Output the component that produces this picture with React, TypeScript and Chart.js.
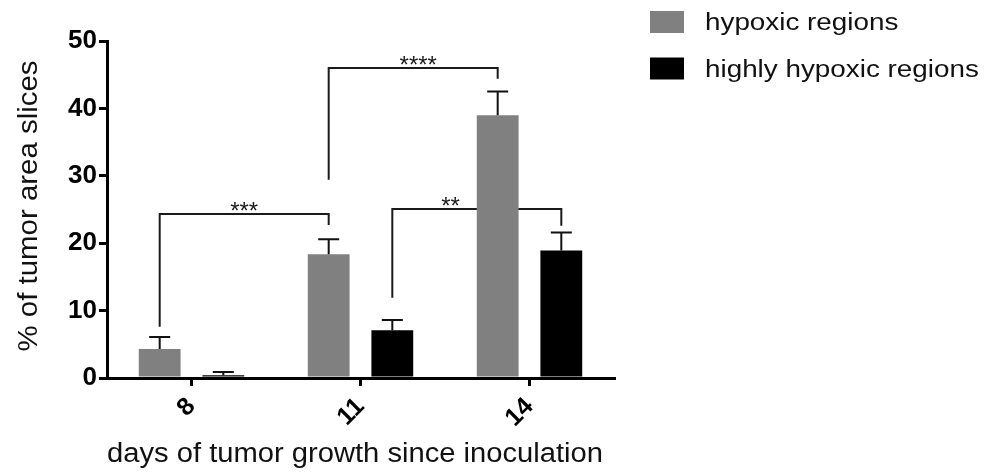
import React, { useEffect, useRef } from "react";
import { Chart, registerables } from "chart.js";

Chart.register(...registerables);

const FONT = "'Liberation Sans', Arial, Helvetica, sans-serif";

const categories = ["8", "11", "14"];
const seriesLabels = ["hypoxic regions", "highly hypoxic regions"];
const seriesColors = ["#808080", "#000000"];
const hypoxic = [4.3, 18.35, 39.0];
const hypoxicErr = [1.8, 2.25, 3.5];
const highlyHypoxic = [0.4, 7.1, 18.9];
const highlyHypoxicErr = [0.5, 1.5, 2.7];
const yTicks = [0, 10, 20, 30, 40, 50];
const xTitle = "days of tumor growth since inoculation";
const yTitle = "% of tumor area slices";

// significance brackets: [datasetIndex, categoryIndex] for each end
const bracketLabels = ["***", "****", "**"];
const bracketLeft = [[0, 0], [0, 1], [1, 1]];
const bracketRight = [[0, 1], [0, 2], [1, 2]];
const bracketTop = [24.3, 46.0, 25.1];
const bracketLeftEnd = [7.6, 29.4, 11.9];
const bracketRightEnd = [22.7, 44.4, 22.6];
const bracketLabelPos = [0.5, 0.53, 0.345];

const errors = [hypoxicErr, highlyHypoxicErr];

function stretchedText(
  ctx: CanvasRenderingContext2D,
  text: string,
  x: number,
  y: number,
  size: number,
  sx: number,
  rotation: number,
  align: CanvasTextAlign,
  baseline: CanvasTextBaseline
) {
  ctx.save();
  ctx.translate(x, y);
  ctx.rotate(rotation);
  ctx.scale(sx, 1);
  ctx.font = `${size}px ${FONT}`;
  ctx.textAlign = align;
  ctx.textBaseline = baseline;
  ctx.fillText(text, 0, 0);
  ctx.restore();
}

const annotationPlugin = {
  id: "annotations",
  beforeDatasetsDraw(chart: any) {
    const ctx = chart.ctx;
    const y = chart.scales.y;
    ctx.save();
    ctx.strokeStyle = "#1a1a1a";
    ctx.fillStyle = "#1a1a1a";
    ctx.lineWidth = 2;
    bracketLabels.forEach((lab, i) => {
      const xl = chart.getDatasetMeta(bracketLeft[i][0]).data[bracketLeft[i][1]].x;
      const xr = chart.getDatasetMeta(bracketRight[i][0]).data[bracketRight[i][1]].x;
      const yt = Math.round(y.getPixelForValue(bracketTop[i]));
      ctx.beginPath();
      ctx.moveTo(xl, y.getPixelForValue(bracketLeftEnd[i]));
      ctx.lineTo(xl, yt);
      ctx.lineTo(xr, yt);
      ctx.lineTo(xr, y.getPixelForValue(bracketRightEnd[i]));
      ctx.stroke();
      ctx.font = `24px ${FONT}`;
      ctx.textAlign = "center";
      ctx.textBaseline = "alphabetic";
      ctx.fillText(lab, xl + bracketLabelPos[i] * (xr - xl), yt + 5);
    });
    ctx.restore();
  },
  afterDatasetsDraw(chart: any) {
    const ctx = chart.ctx;
    const y = chart.scales.y;
    ctx.save();
    ctx.strokeStyle = "#111";
    ctx.lineWidth = 2;
    chart.data.datasets.forEach((ds: any, di: number) => {
      const meta = chart.getDatasetMeta(di);
      meta.data.forEach((el: any, i: number) => {
        const top = y.getPixelForValue(ds.data[i] + errors[di][i]);
        ctx.beginPath();
        ctx.moveTo(el.x, el.y);
        ctx.lineTo(el.x, top);
        ctx.moveTo(el.x - 10.5, top);
        ctx.lineTo(el.x + 10.5, top);
        ctx.stroke();
      });
    });
    ctx.restore();
  },
  afterDraw(chart: any) {
    const ctx = chart.ctx;
    ctx.save();
    // legend
    const rows = [22, 68.5];
    seriesLabels.forEach((lab, i) => {
      ctx.fillStyle = seriesColors[i];
      ctx.fillRect(650, rows[i] - 11, 34, 22);
      ctx.fillStyle = "#111";
      stretchedText(ctx, lab, 705, rows[i] + 8, 23, 1.21, 0, "left", "alphabetic");
    });
    // axis titles
    ctx.fillStyle = "#111";
    stretchedText(ctx, xTitle, 355, 462, 27, 1.08, 0, "center", "alphabetic");
    stretchedText(ctx, yTitle, 37, 206, 27, 1.09, -Math.PI / 2, "center", "alphabetic");
    ctx.restore();
  },
};

export default function App() {
  const ref = useRef<HTMLCanvasElement>(null);
  useEffect(() => {
    if (!ref.current) return;
    const axisGrid = {
      display: true,
      drawOnChartArea: false,
      drawTicks: true,
      tickLength: 8,
      lineWidth: 3,
      color: "#000",
    };
    const chart = new Chart(ref.current, {
      type: "bar",
      data: {
        labels: categories,
        datasets: [
          {
            label: seriesLabels[0],
            data: hypoxic,
            backgroundColor: seriesColors[0],
            borderWidth: 0,
            categoryPercentage: 0.753,
            barPercentage: 0.657,
          },
          {
            label: seriesLabels[1],
            data: highlyHypoxic,
            backgroundColor: seriesColors[1],
            borderWidth: 0,
            categoryPercentage: 0.753,
            barPercentage: 0.657,
          },
        ],
      },
      options: {
        animation: false,
        responsive: false,
        layout: { padding: { left: 0, right: 386, top: 41, bottom: 0 } },
        plugins: {
          legend: { display: false },
          tooltip: { enabled: false },
        },
        scales: {
          x: {
            type: "category",
            offset: true,
            grid: { ...axisGrid, offset: false },
            border: { display: true, width: 3, color: "#000" },
            ticks: {
              font: { family: FONT, size: 25, weight: "bold" },
              color: "#000",
              minRotation: 45,
              maxRotation: 45,
              padding: 6,
            },
            afterFit: (s: any) => {
              s.height = 94;
            },
          },
          y: {
            min: 0,
            max: 50,
            grid: axisGrid,
            border: { display: true, width: 3, color: "#000" },
            ticks: {
              stepSize: 10,
              font: { family: FONT, size: 26, weight: "bold" },
              color: "#000",
              padding: 2,
            },
            afterBuildTicks: (s: any) => {
              s.ticks = yTicks.map((v) => ({ value: v }));
            },
            afterFit: (s: any) => {
              s.width = 107;
            },
          },
        },
      },
      plugins: [annotationPlugin],
    } as any);
    return () => chart.destroy();
  }, []);
  return (
    <div style={{ position: "absolute", left: 0, top: 0, width: 1000, height: 472, background: "#fff" }}>
      <canvas ref={ref} width={1000} height={472} style={{ display: "block" }} />
    </div>
  );
}
